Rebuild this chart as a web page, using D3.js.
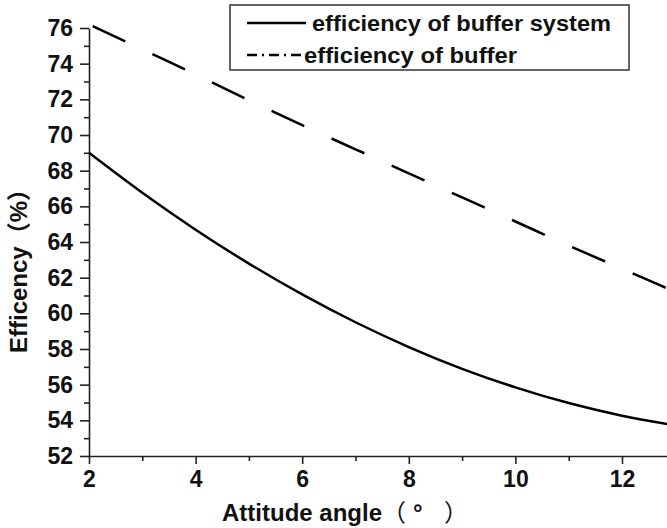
<!DOCTYPE html>
<meta charset="utf-8">
<script src="https://d3js.org/d3.v7.min.js"></script>
<style>
  body { margin: 0; background: #fff; }
  text { font-family: "Liberation Sans", Arial, "Noto Sans CJK SC", sans-serif; fill: #111; font-weight: bold; }
</style>
<div id="chart"></div>
<script>

var width = 667, height = 528;

// data
var angle = [2, 3, 4, 5, 6, 7, 8, 9, 10, 11, 12, 13];
var effSystem = [69.0, 66.76, 64.69, 62.79, 61.06, 59.5, 58.11, 56.89, 55.85, 54.97, 54.26, 53.72];
var effBuffer = [76.2, 74.8, 73.4, 71.95, 70.55, 69.2, 67.85, 66.5, 65.15, 63.8, 62.5, 61.2];

var xMajor = [2, 4, 6, 8, 10, 12];
var xMinor = [3, 5, 7, 9, 11, 13];
var yMajor = d3.range(52, 77, 2);
var yMinor = d3.range(53, 76, 2);

var legendItems = [
  {name: "efficiency of buffer system", dash: null},
  {name: "efficiency of buffer", dash: "10,5,2,5"}
];

var svg = d3.select("#chart")
  .append("svg")
  .attr("width", width)
  .attr("height", height);

var x = d3.scaleLinear().domain([2, 13]).range([89, 89 + 11 * 53.3]);
var y = d3.scaleLinear().domain([52, 76]).range([456, 28]);

// axes
function styleAxis(g) {
  g.selectAll("path, line").attr("stroke", "#222").attr("stroke-width", 1.6);
  g.selectAll("text").style("font-size", "23px").attr("fill", "#111");
}

svg.append("g")
  .attr("transform", "translate(0,456)")
  .call(d3.axisBottom(x).tickValues(xMajor).tickSize(8).tickSizeOuter(0).tickPadding(7))
  .call(styleAxis);

svg.append("g")
  .attr("transform", "translate(0,456)")
  .call(d3.axisBottom(x).tickValues(xMinor).tickSize(5).tickFormat(""))
  .call(function(g) { g.select(".domain").remove(); })
  .call(styleAxis);

svg.append("g")
  .attr("transform", "translate(89,0)")
  .call(d3.axisLeft(y).tickValues(yMajor).tickSize(9).tickSizeOuter(0).tickPadding(7))
  .call(styleAxis);

svg.append("g")
  .attr("transform", "translate(89,0)")
  .call(d3.axisLeft(y).tickValues(yMinor).tickSize(5).tickFormat(""))
  .call(function(g) { g.select(".domain").remove(); })
  .call(styleAxis);

// lines
var line = d3.line()
  .x(function(d) { return x(d[0]); })
  .y(function(d) { return y(d[1]); })
  .curve(d3.curveMonotoneX);

svg.append("path")
  .datum(d3.zip(angle, effSystem))
  .attr("d", line)
  .attr("fill", "none")
  .attr("stroke", "#000")
  .attr("stroke-width", 2.5);

svg.append("path")
  .datum(d3.zip(angle, effBuffer))
  .attr("d", line)
  .attr("fill", "none")
  .attr("stroke", "#000")
  .attr("stroke-width", 2.5)
  .attr("stroke-dasharray", "36,30")
  .attr("stroke-dashoffset", 62);

// titles
var xTitle = svg.append("text")
  .attr("y", 521)
  .style("font-size", "24px");
xTitle.append("tspan").attr("x", 222).text("Attitude angle");
xTitle.append("tspan").attr("x", 382).style("font-weight", "normal").text("（");
xTitle.append("tspan").attr("x", 413).text("°");
xTitle.append("tspan").attr("x", 444).style("font-weight", "normal").text("）");

svg.append("text")
  .attr("transform", "translate(27,353) rotate(-90)")
  .style("font-size", "24px")
  .text("Efficency（%）");

// legend
var legend = svg.append("g");

legend.append("rect")
  .attr("x", 230)
  .attr("y", 5)
  .attr("width", 399)
  .attr("height", 65)
  .attr("fill", "#fff")
  .attr("stroke", "#333")
  .attr("stroke-width", 1.5);

var rowY = [23, 55];
var textStart = [312, 304];
var textLen = [299, 213];

legend.selectAll("line.key")
  .data(legendItems)
  .join("line")
  .attr("class", "key")
  .attr("x1", 247)
  .attr("x2", function(d, i) { return i == 0 ? 306 : 302; })
  .attr("y1", function(d, i) { return rowY[i]; })
  .attr("y2", function(d, i) { return rowY[i]; })
  .attr("stroke", "#000")
  .attr("stroke-width", 2.5)
  .attr("stroke-dasharray", function(d) { return d.dash; });

legend.selectAll("text")
  .data(legendItems)
  .join("text")
  .attr("x", function(d, i) { return textStart[i]; })
  .attr("y", function(d, i) { return rowY[i] + 8; })
  .attr("textLength", function(d, i) { return textLen[i]; })
  .attr("lengthAdjust", "spacingAndGlyphs")
  .style("font-size", "22px")
  .text(function(d) { return d.name; });

</script>
